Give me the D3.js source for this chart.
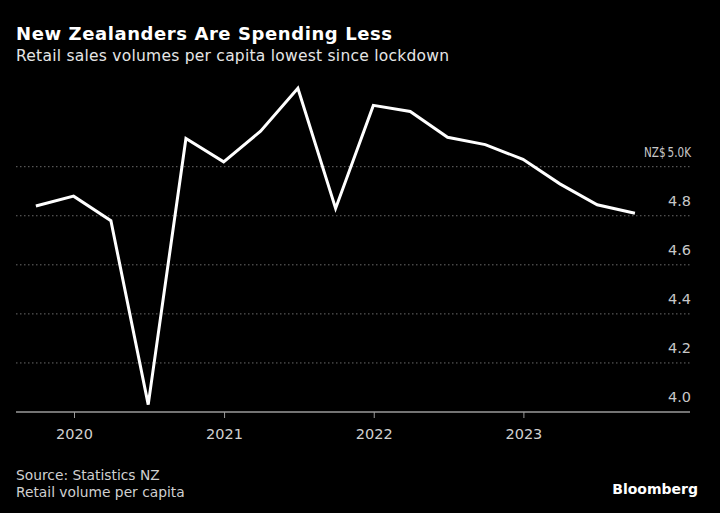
<!DOCTYPE html>
<html>
<head>
<meta charset="utf-8">
<script src="https://cdn.jsdelivr.net/npm/d3@7"></script>
<style>
  html, body { margin: 0; padding: 0; background: #000; }
  svg { display: block; }
  text { font-family: "DejaVu Sans", sans-serif; }
</style>
</head>
<body>
<svg id="chart" width="720" height="513"></svg>
<script>
// ---- data ----
const quarters = ["2019-09-30","2019-12-31","2020-03-31","2020-06-30","2020-09-30","2020-12-31",
  "2021-03-31","2021-06-30","2021-09-30","2021-12-31","2022-03-31","2022-06-30",
  "2022-09-30","2022-12-31","2023-03-31","2023-06-30","2023-09-30"];
const values = [4.84, 4.88, 4.78, 4.03, 5.115, 5.02, 5.145, 5.32, 4.83, 5.25, 5.225,
  5.12, 5.09, 5.03, 4.93, 4.845, 4.81];
const yTicks = [4.0, 4.2, 4.4, 4.6, 4.8, 5.0];
const yTickLabels = ["4.0", "4.2", "4.4", "4.6", "4.8", "NZ$\u20095.0K"];
const xTicks = ["2020-01-01", "2021-01-01", "2022-01-01", "2023-01-01"];
const xTickLabels = ["2020", "2021", "2022", "2023"];

const parse = d3.utcParse("%Y-%m-%d");
const data = quarters.map((q, i) => ({ date: parse(q), value: values[i] }));

const svg = d3.select("#chart");
svg.append("rect").attr("width", 720).attr("height", 513).attr("fill", "#000");

const plotLeft = 16, plotRight = 690;
const x = d3.scaleUtc()
  .domain([parse(xTicks[0]), parse(xTicks[3])])
  .range([74, 523.4]);
const y = d3.scaleLinear().domain([4.0, 5.0]).range([412, 166.7]);

// Title
svg.append("text").attr("x", 16).attr("y", 40)
  .attr("fill", "#fff").attr("font-size", 18).attr("font-weight", "bold")
  .attr("textLength", 376).attr("lengthAdjust", "spacing")
  .text("New Zealanders Are Spending Less");
svg.append("text").attr("x", 16).attr("y", 61)
  .attr("fill", "#e6e6e6").attr("font-size", 15.5)
  .attr("textLength", 433).attr("lengthAdjust", "spacing")
  .text("Retail sales volumes per capita lowest since lockdown");

// gridlines
const grid = svg.append("g");
grid.selectAll("line").data(yTicks.slice(1)).join("line")
  .attr("x1", plotLeft).attr("x2", plotRight)
  .attr("y1", d => y(d)).attr("y2", d => y(d))
  .attr("stroke", "#6a6a6a").attr("stroke-width", 1)
  .attr("stroke-dasharray", "1.5,2.5");

// y labels
svg.append("g").selectAll("text").data(yTicks).join("text")
  .attr("x", 691).attr("y", d => y(d) - 10)
  .attr("text-anchor", "end").attr("fill", "#c8c8c8").attr("font-size", 14.5)
  .each(function (d, i) {
    if (i === yTicks.length - 1) {
      d3.select(this).attr("textLength", 47).attr("lengthAdjust", "spacingAndGlyphs");
    }
  })
  .text((d, i) => yTickLabels[i]);

// x axis
const xAxis = d3.axisBottom(x)
  .tickValues(xTicks.map(parse))
  .tickFormat((d, i) => xTickLabels[i])
  .tickSize(6).tickSizeOuter(0).tickPadding(11);
const gx = svg.append("g").attr("transform", `translate(0,${y(4.0)})`).call(xAxis);
gx.select(".domain").remove();
gx.selectAll(".tick line").attr("stroke", "#9a9a9a").attr("stroke-width", 1);
gx.selectAll(".tick text").attr("fill", "#d0d0d0").attr("font-size", 14.5)
  .attr("font-family", "'DejaVu Sans', sans-serif");
svg.append("line").attr("x1", plotLeft).attr("x2", plotRight)
  .attr("y1", y(4.0)).attr("y2", y(4.0))
  .attr("stroke", "#9a9a9a").attr("stroke-width", 1.5);

// line
const line = d3.line().x(d => x(d.date)).y(d => y(d.value));
svg.append("path").datum(data)
  .attr("d", line).attr("fill", "none")
  .attr("stroke", "#fff").attr("stroke-width", 3)
  .attr("stroke-linejoin", "miter");

// footer
svg.append("text").attr("x", 16).attr("y", 480)
  .attr("fill", "#d0d0d0").attr("font-size", 13.8).text("Source: Statistics NZ");
svg.append("text").attr("x", 16).attr("y", 497)
  .attr("fill", "#d0d0d0").attr("font-size", 13.8).text("Retail volume per capita");
svg.append("text").attr("x", 698).attr("y", 494)
  .attr("text-anchor", "end").attr("fill", "#fff").attr("font-size", 14)
  .attr("font-weight", "bold").text("Bloomberg");
</script>
</body>
</html>
